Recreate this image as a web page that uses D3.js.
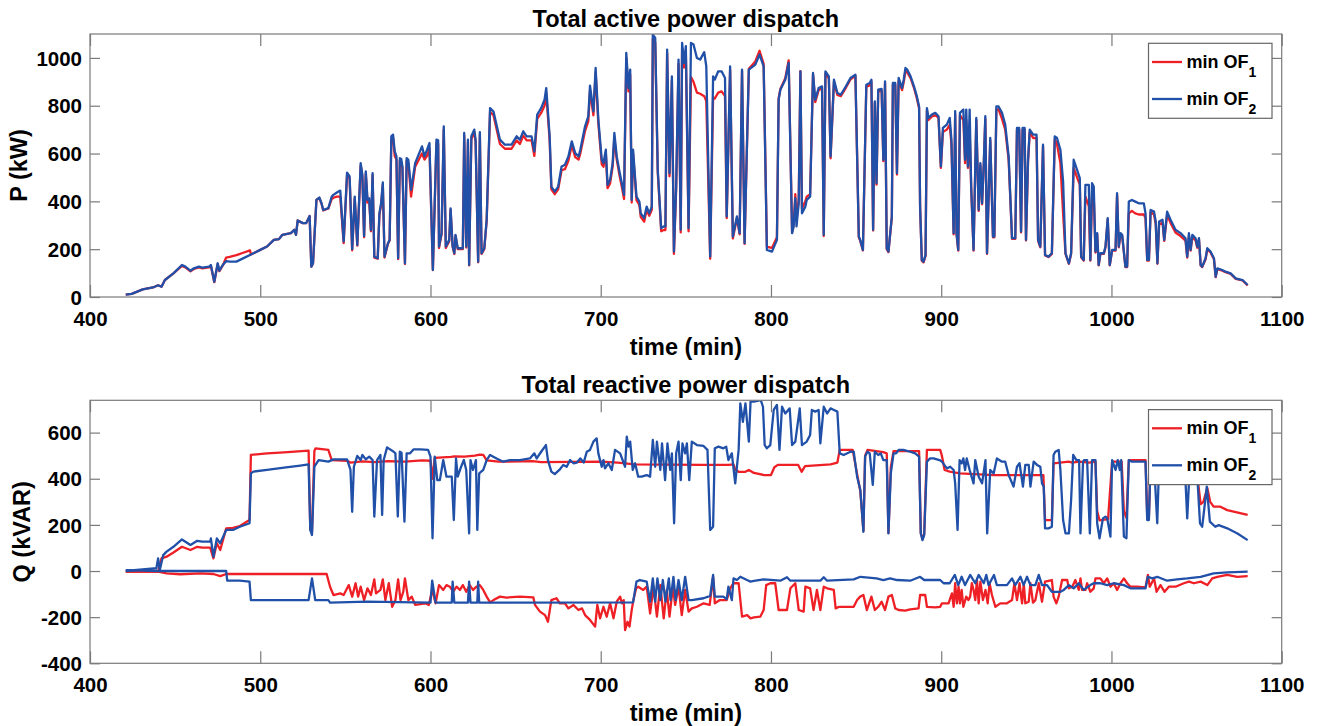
<!DOCTYPE html>
<html>
<head>
<meta charset="utf-8">
<script src="https://cdn.jsdelivr.net/npm/d3@7"></script>
<style>
  html, body { margin: 0; padding: 0; background: #fff; }
  svg { display: block; }
  text { font-family: "Liberation Sans", Arial, Helvetica, sans-serif; font-weight: bold; fill: #000; }
</style>
</head>
<body>
<svg id="chart" width="1319" height="726"></svg>
<script>
// ---- data: [time (min), value] ----
const timeTicks = [400, 500, 600, 700, 800, 900, 1000, 1100];
const pTicks = [0, 200, 400, 600, 800, 1000];
const qTicks = [-400, -200, 0, 200, 400, 600];
const seriesNames = ["min OF", "min OF"];
const seriesSubs = ["1", "2"];

// Total active power, min OF2
const pOF2 = [
[421,10],[424.5,13],[431,32],[437,40],[440,49],[442,43],[444,71],[449,99],[454,134],[456,127],[459,110],[461,120],[464,127],[466,123],[470,127],[471,134],[473,64],[475,141],[476,110],[478,134],[480,150],[482,148],[486,148],[494,176],[500,197],[504,211],[508,239],[511,242],[513,260],[518,267],[520,281],[521,260],[522,320],[525,309],[527,309],[529,339],[530,127],[531,141],[533,406],[534.7,416],[536,392],[537,364],[540,372],[542,420],[543,427],[545,437],[547,445],[549,232],[551,520],[552.5,504],[554,200],[555.5,420],[557,218],[559,560],[560,511],[561,255],[562,525],[563,406],[564,413],[565,280],[566,518],[567,169],[569,162],[570,350],[571,392],[572,479],[573,169],[575,225],[576,239],[577,672],[578,679],[579,609],[580,588],[581,162],[582,581],[582.8,577],[583.5,546],[585,141],[586,581],[587,574],[588.6,448],[591,560],[595,630],[596.5,588],[598,616],[599.4,644],[601.4,113],
[603.5,658],[604.5,655],[605,211],[606.5,267],[607.8,714],[609,211],[611,239],[611.8,371],[613,214],[614,183],[614.7,260],[616,204],[619,204],[619.8,686],[621,211],[622,658],[622.7,134],[624,672],[625.7,700],[626.5,658],[628,148],[629,689],[630,183],[631.6,204],[633,323],[635,790],[637,776],[640.8,658],[643.7,637],[647.6,637],[650.6,672],[652.5,658],[654.5,693],[656.5,672],[659.4,672],[661,609],[662.7,763],[665,790],[667,825],[668,874],[670,672],[671,462],[673,441],[675,462],[677,546],[679,553],[681,588],[683,651],[685,602],[687,588],[688,616],[690.8,714],[692.7,756],[693.7,884],[695.7,776],[697,958],[698.6,742],[700.6,574],[701.6,560],[703,616],[704,469],[705.5,490],[707,560],[708,686],[709.4,588],[711,525],[712.4,476],[713.7,427],[715,1021],[716.3,874],[717.3,951],[718.2,406],[719,616],[721,420],[722.7,399],[723.5,350],[725.5,330],[727,378],[728.5,350],[730,378],[730.6,1098],[732,1084],[733.5,532],[735.5,288],[737,295],[738,295],[739,1035],[740.4,518],[741.8,923],[743,190],[744.3,462],[745.7,993],[747,281],[747.8,1063],[749,979],[750,1049],[751.6,288],[753,1063],[754.5,1056],[756.5,1000],[758.4,993],[760.8,1024],[762,965],[764.3,169],[766,923],[767,909],[769,944],[771,944],[773,916],[774,337],[776,965],[777.6,253],[780,337],[781.6,267],[783,951],[784.5,225],[787,951],[790.8,972],[793.3,1014],[795.7,965],[797.6,197],[800.6,190],[803.5,239],[804.5,825],[805.5,867],[808.4,909],[810.4,979],[812.4,267],[813.3,295],[814.3,413],[815,295],[816.3,392],[817.3,944],[818.2,350],[820.2,378],[821,406],[823,420],[824.7,937],[826,825],[828,874],[830,881],[831,260],[832,944],[834,923],[835,588],[837,909],[839,853],[841,846],[844,881],[846.7,916],[849.6,930],[851.6,253],[852.4,239],[854,197],
[856,888],[858,895],[859,909],[860,281],[861,818],[862,476],[863,867],[865,870],[866,574],[867,902],[868,204],[869,190],[871,337],[871.6,895],[873,895],[874,518],[875,916],[877,874],[878,910],[879,958],[880,951],[882,923],[884,881],[885.7,839],[887,797],[887.6,378],[888.6,155],[889.6,148],[890.8,176],[891.6,790],[892.5,749],[894.5,763],[896.5,770],[898.4,756],[899.8,546],[901,707],[903.3,721],[905,749],[906,658],[907.3,267],[908.2,777],[909,267],[910,197],[911,770],[913,784],[914,574],[914.7,784],[915.7,546],[916.7,784],[917.6,462],[919,197],[920.6,749],[922,365],[923,560],[924,392],[925,560],[925.9,756],[926.9,183],[928.8,665],[930.4,253],[931.2,253],[932.4,797],[933.7,797],[935.7,770],[937.6,721],[939.6,588],[941.6,246],[943.5,246],[944.5,707],[945.8,707],[946.9,274],[947.8,707],[949,707],[949.8,239],[951,574],[952,700],[954,679],[956,679],[956.9,239],[958.2,211],[959.8,637],[961,176],[963,169],[965,183],[966.7,672],[968,665],[970,616],[971.6,483],[973,183],[975,141],[976.3,183],[977.8,574],[979.8,532],[981.4,497],[982.2,169],[983.7,155],[984.7,469],[986.7,469],[987.6,155],[988.6,476],[989.6,462],[990.6,190],[991.6,267],[992.5,134],[993.5,183],[995.5,183],[996.5,211],[997.8,330],[999,134],[1000.4,197],[1002.4,197],[1003.3,434],[1004.3,211],[1005.3,267],[1006.3,260],[1008.2,127],[1009.2,127],[1010.2,399],[1012,406],[1014,399],[1016,392],[1019,392],[1020,350],[1021,155],[1022,155],[1023,364],[1025,357],[1026,316],[1027,141],[1028,316],[1030,323],[1031,239],[1032.7,357],[1034.7,323],[1037.6,281],[1040.6,267],[1043.5,246],[1044.5,169],[1045.5,267],[1046.5,197],[1047.5,260],[1049.4,246],[1050.4,211],[1051.4,246],[1052.4,134],[1053.3,127],[1055.3,162],[1056.3,204],[1058.2,190],[1060.2,162],[1061.2,85],[1062.2,120],[1065.1,113],[1067,106],[1070,99],[1073,78],[1077,71],[1080,50]
];

// Total active power, min OF1
const pOF1 = [
[421,10],[424.5,13],[431,32],[437,40],[440,49],[442,43],[444,71],[449,99],[454,130],[456,124],[459,107],[461,117],[464,124],[466,120],[470,124],[471,131],[473,62],[475,138],[476,108],[478,132],[480,165],[482,168],[486,175],[490,185],[494,195],[494.5,178],[500,197],[504,211],[508,239],[511,242],[513,260],[518,267],[520,281],[521,260],[522,320],[525,309],[527,309],[529,339],[530,127],[531,141],[533,406],[534.7,414],[536,390],[537,362],[540,370],[542,410],[543,415],[545,420],[547,420],[549,225],[551,510],[552.5,495],[554,195],[555.5,412],[557,215],[559,550],[560,500],[561,250],[562,515],[563,395],[564,405],[565,275],[566,510],[567,165],[569,160],[570,345],[571,385],[572,470],[573,165],[575,222],[576,236],[577,660],[578,668],[579,590],[580,575],[581,158],[582,570],[582.8,565],[583.5,540],[585,138],[586,570],[587,560],[588.6,420],[591,545],[595,600],[596.5,575],[598,590],[599.4,620],[601.4,113],
[603.5,645],[604.5,640],[605,205],[606.5,262],[607.8,700],[609,205],[611,233],[611.8,365],[613,210],[614,180],[614.7,255],[616,200],[619,200],[619.8,675],[621,207],[622,648],[622.7,132],[624,660],[625.7,690],[626.5,648],[628,145],[629,678],[630,180],[631.6,200],[633,318],[635,775],[637,760],[640.8,640],[643.7,620],[647.6,620],[650.6,655],[652.5,640],[654.5,675],[656.5,655],[659.4,655],[661,590],[662.7,745],[665,770],[667,800],[668,850],[670,655],[671,450],[673,430],[675,450],[677,530],[679,535],[681,570],[683,635],[685,585],[687,575],[688,600],[690.8,695],[692.7,735],[693.7,860],[695.7,760],[697,940],[698.6,725],[700.6,555],[701.6,545],[703,600],[704,455],[705.5,475],[707,545],[708,665],[709.4,575],[711,510],[712.4,460],[713.7,410],[715,1000],[716.3,860],[717.3,930],[718.2,395],[719,600],[721,405],[722.7,385],[723.5,335],[725.5,315],[727,365],[728.5,340],[730,365],[730.6,1080],[732,1065],[733.5,520],[735.5,275],[737,280],[738,280],[739,1020],[740.4,505],[741.8,905],[743,180],[744.3,450],[745.7,975],[747,270],[747.8,1040],[749,960],[750,1020],[751.6,275],[753,920],[754.5,900],[756.5,855],[758.4,850],[760.8,840],[762,820],[764.3,160],[766,835],[767,830],[769,855],[771,860],[773,840],[774,330],[776,950],[777.6,245],[780,330],[781.6,262],[783,945],[784.5,222],[787,955],[790.8,985],[793.3,1030],[795.7,975],[797.6,210],[800.6,205],[803.5,250],[804.5,830],[805.5,870],[808.4,915],[810.4,990],[812.4,270],[813.3,300],[814.3,430],[815,320],[816.3,410],[817.3,945],[818.2,370],[820.2,400],[821,420],[823,430],[824.7,930],[826,815],[828,865],[830,875],[831,255],[832,935],[834,915],[835,580],[837,900],[839,845],[841,840],[844,875],[846.7,910],[849.6,925],[851.6,250],[852.4,236],[854,195],
[856,880],[858,885],[859,900],[860,278],[861,810],[862,470],[863,860],[865,862],[866,568],[867,895],[868,200],[869,188],[871,334],[871.6,888],[873,888],[874,512],[875,905],[877,865],[878,900],[879,945],[880,940],[882,915],[884,875],[885.7,830],[887,790],[887.6,372],[888.6,152],[889.6,145],[890.8,172],[891.6,780],[892.5,740],[894.5,755],[896.5,760],[898.4,750],[899.8,540],[901,690],[903.3,700],[905,720],[906,640],[907.3,262],[908.2,765],[909,262],[910,194],[911,760],[913,740],[914,560],[914.7,740],[915.7,540],[916.7,700],[917.6,455],[919,194],[920.6,740],[922,360],[923,550],[924,388],[925,550],[925.9,745],[926.9,180],[928.8,655],[930.4,250],[931.2,250],[932.4,785],[933.7,785],[935.7,745],[937.6,700],[939.6,575],[941.6,243],[943.5,243],[944.5,700],[945.8,700],[946.9,270],[947.8,700],[949,700],[949.8,236],[951,565],[952,690],[954,665],[956,665],[956.9,236],[958.2,208],[959.8,630],[961,174],[963,167],[965,180],[966.7,660],[968,640],[970,560],[971.6,350],[973,180],[975,139],[976.3,180],[977.8,540],[979.8,500],[981.4,470],[982.2,166],[983.7,152],[984.7,420],[986.7,380],[987.6,152],[988.6,430],[989.6,420],[990.6,186],[991.6,262],[992.5,132],[993.5,180],[995.5,180],[996.5,208],[997.8,325],[999,132],[1000.4,194],[1002.4,194],[1003.3,425],[1004.3,208],[1005.3,262],[1006.3,255],[1008.2,125],[1009.2,125],[1010.2,350],[1012,360],[1014,350],[1016,345],[1019,345],[1020,330],[1021,152],[1022,152],[1023,355],[1025,345],[1026,305],[1027,139],[1028,305],[1030,310],[1031,235],[1032.7,345],[1034.7,310],[1037.6,270],[1040.6,255],[1043.5,236],[1044.5,165],[1045.5,255],[1046.5,194],[1047.5,250],[1049.4,236],[1050.4,206],[1051.4,240],[1052.4,132],[1053.3,125],[1055.3,158],[1056.3,200],[1058.2,186],[1060.2,158],[1061.2,83],[1062.2,117],[1065.1,110],[1067,104],[1070,97],[1073,76],[1077,69],[1080,48]
];

// Total reactive power, min OF1 (upper and lower traces)
const qOF1Upper = [
[421,-3],[440,-3],[442,55],[445,62],[449,80],[454,105],[459,91],[463,105],[466,101],[470.6,101],[472.5,55],[474.5,120],[476.5,91],[480,185],[484,187],[488,195],[493.7,221],[494.5,503],[504,510],[514,514],[528.4,522],[529.4,180],[530.4,170],[531.8,520],[532.5,532],[540,525],[542,481],[551,478],[553,470],[560,475],[567,472],[575,476],[585,474],[595,480],[600,478],[601,400],[602.5,490],[612,495],[614,497],[620,496],[626,500],[629,505],[631,503],[633,480],[640,474],[660,476],[665,472],[700,474],[710,470],[720,462],[760,460],[775,460],[778,462],[779,440],[781,430],[785,430],[787,438],[790,425],[796,416],[800,416],[802,450],[804,460],[816,460],[818,430],[820,455],[835,462],[839,470],[840.4,525],[848,525],[850.6,420],[852.5,345],[854.3,175],[855.3,500],[856.7,525],[866,515],[868,510],[869,165],[870.4,450],[872,520],[887,520],[888,165],[889,140],[890,160],[891.6,525],[899.4,525],[900.4,500],[902,438],[905,431],[911,423],[931,416],[960,416],[961,221],[965,221],[966,467],[975,474],[977,470],[981,474],[987,470],[990.6,474],[991.6,260],[993,220],[998,225],[1000.4,474],[1006,474],[1007.3,260],[1008.8,230],[1010.2,481],[1020,481],[1021,240],[1022,240],[1023,478],[1045,470],[1050,440],[1052.4,290],[1054,300],[1056.3,360],[1058,300],[1060,279],[1064,279],[1068,264],[1080,243]
];
const qOF1Lower = [
[421,-3],[440,-3],[445,-10],[453,-14],[465,-10],[472.5,-13],[476.5,-22],[480,-13],[539,-13],[541,-68],[543,-104],[547,-97],[549,-104],[552,-61],[554,-111],[556,-53],[557.5,-111],[559,-68],[561,-126],[563,-75],[565,-104],[567,-36],[568,-97],[570.6,-82],[572,-36],[573.5,-126],[575.5,-53],[577.5,-155],[579.4,-126],[581,-36],[582.4,-126],[584,-90],[585,-32],[587,-126],[589,-111],[591,-147],[597,-140],[599,-147],[601,-82],[603,-140],[605,-61],[607.5,-82],[609.4,-61],[611.4,-68],[613.3,-90],[615.3,-68],[617.3,-82],[619,-61],[621,-90],[623,-61],[625,-82],[627,-68],[629,-61],[631,-82],[633,-111],[635,-136],[637,-126],[640.8,-111],[644.7,-115],[652.5,-111],[660.4,-114],[661.4,-147],[664.3,-176],[667.3,-191],[669,-220],[671,-126],[674,-118],[676,-140],[679,-140],[681,-162],[684,-147],[686.9,-169],[689,-162],[690.8,-191],[693.7,-212],[696.7,-241],[698,-147],[699.6,-205],[701.6,-155],[703.5,-198],[705.5,-140],[707.5,-205],[709.4,-133],[711.4,-111],[712.4,-140],[713.5,-126],[714.3,-256],[715.7,-220],[716.9,-241],[718.2,-169],[719.2,-126],[720.8,-75],[722,-68],[725,-82],[727,-68],[729,-184],[731,-68],[733,-198],[735,-61],[737,-205],[738.8,-82],[740.4,-198],[742.4,-68],[743.7,-147],[745.7,-68],[747.6,-191],[749.6,-82],[751.6,-176],[753.5,-162],[756.5,-155],[760.4,-140],[764,-147],[766,-25],[767,-140],[770,-126],[774,-126],[776,-75],[778,-53],[781,-53],[783,-198],[786,-191],[788,-205],[790,-201],[793.7,-198],[795.7,-169],[797.2,-61],[799.6,-53],[802.5,-53],[804.5,-169],[809.4,-169],[811.4,-75],[814.3,-53],[816.3,-169],[819.2,-176],[820.2,-68],[823,-75],[825,-169],[827,-82],[829,-169],[831,-68],[833,-75],[836.9,-82],[838,-162],[840,-155],[848.6,-155],[850.6,-126],[852.4,-111],[854.3,-104],[856.3,-169],[859,-111],[861,-169],[863,-155],[865,-133],[867,-169],[869,-111],[871,-104],[873,-162],[875,-169],[878.8,-172],[881.8,-166],[886.7,-162],[887.6,-104],[890.6,-104],[891.6,-155],[896.5,-158],[899.4,-155],[900.4,-140],[904.3,-140],[906.3,-97],[907.3,-155],[908.2,-53],[909.2,-140],[910.2,-68],[911,-140],[912,-82],[913,-155],[914.7,-111],[916,-126],[917,-111],[918,-53],[919,-82],[920,-126],[921,-39],[922,-140],[923,-46],[924.5,-126],[926,-82],[927.3,-140],[928.4,-53],[929.8,-104],[931.8,-155],[934.7,-140],[938.6,-140],[941.6,-126],[943,-53],[944.5,-126],[946,-53],[947.5,-140],[948.5,-53],[949.4,-140],[951.4,-133],[952.4,-53],[953.9,-137],[955.3,-126],[957.3,-53],[959.2,-133],[961,-46],[965,-39],[966,-111],[967.6,-140],[969,-111],[971,-39],[974,-39],[975,-75],[977,-68],[978.8,-39],[980.8,-82],[981.8,-32],[982.7,-82],[984.7,-82],[985.7,-53],[987.6,-90],[989.6,-75],[990.6,-32],[993.5,-32],[995.5,-53],[997.5,-32],[999.4,-68],[1001.4,-53],[1003.3,-82],[1005.3,-53],[1007.3,-32],[1009.2,-53],[1011.2,-68],[1015,-68],[1020,-71],[1021.4,-17],[1022.5,-68],[1025,-32],[1026.5,-90],[1028.8,-61],[1031.2,-90],[1033.7,-68],[1037.6,-68],[1042.5,-53],[1045.5,-46],[1048.4,-53],[1052.4,-46],[1056.3,-61],[1059.2,-32],[1062.2,-25],[1068,-17],[1073.9,-25],[1080,-22]
];

// Total reactive power, min OF2 (upper and lower traces)
const qOF2Upper = [
[421,0],[439,12],[440,55],[441,4],[443,69],[445,84],[449,105],[454,137],[459,113],[463,131],[466,127],[470.6,127],[471,141],[472.5,62],[474.5,141],[476.5,120],[480,178],[484,178],[488,192],[493.7,207],[494.5,423],[496,431],[504,438],[514,448],[523.5,457],[528.4,462],[529.4,178],[530.4,156],[531.8,452],[534.3,481],[540,474],[543,484],[551,484],[553,438],[554,257],[555,452],[557,499],[559,481],[560,503],[562,484],[564,496],[566,481],[567,236],[568.6,481],[570.6,503],[571.6,243],[572.5,481],[574.5,536],[578.4,517],[579.4,510],[580.8,236],[582,517],[583,513],[584.7,214],[586,510],[588,510],[590,527],[594,527],[598.6,525],[600,496],[601.2,142],[602.5,496],[604,394],[605.5,394],[607.5,481],[609.4,409],[611,409],[612.5,409],[613.7,221],[615,488],[616,409],[618,452],[619.6,481],[621,438],[622.7,163],[623.5,481],[625,438],[626.7,481],[627.5,178],[628.6,423],[631,438],[633,481],[635,503],[638.8,488],[642.7,474],[646.7,481],[652.5,481],[658.4,488],[661,510],[662.4,488],[665,517],[667.8,546],[669,481],[671,431],[673,420],[675.7,438],[678,460],[680,452],[682,481],[684,467],[686,470],[688,488],[690,470],[691.8,517],[693.7,525],[695.7,561],[697.6,575],[698.6,510],[700.6,452],[701.6,481],[702.5,445],[704.5,467],[706.5,438],[708.4,525],[711.4,510],[714.3,452],[715.3,582],[716.3,539],[717.3,561],[718.8,438],[720.2,467],[722,409],[724,409],[727,416],[729,409],[730.6,568],[732,452],[733,561],[735,438],[736,553],[737.8,394],[739.2,553],[740.8,438],[741.8,510],[743.1,207],[744.3,510],[745.7,561],[747,394],[748,553],[749.6,510],[750.6,553],[752,394],[753.5,561],[756.5,546],[760.4,542],[762.7,525],[764.3,178],[766,192],[767,532],[769.2,539],[772,532],[773.7,539],[775,481],[777,510],[779,380],[781,525],[782,727],[783.5,647],[785,727],[787,561],[788,734],[790,734],[792,737],[794,741],[795.3,712],[796.3,546],[797.6,532],[799.6,546],[801.6,698],[803.5,720],[805,525],[806.5,712],[808.4,683],[811,705],[812.4,546],[814.3,561],[816.9,705],[818.2,546],[821,561],[823,590],[824,698],[826,691],[828,698],[829,553],[831,712],[833,683],[835,705],[837,698],[839,691],[840.4,510],[842.7,503],[846.7,517],[848.6,517],[850.6,409],[852.5,351],[854.3,170],[855.3,496],[856.7,517],[858,510],[859.8,373],[861,517],[863,503],[864.5,510],[866,481],[868,481],[869,163],[870.4,423],[872,510],[873.5,510],[875,525],[877.8,525],[881.8,517],[884.7,510],[887,496],[888,163],[889,134],[890,156],[891.6,474],[893.5,488],[895.5,488],[899,481],[900.4,474],[903.3,445],[905.3,452],[907.3,438],[908.2,380],[909.6,178],[910.8,481],[912,467],[913,488],[914,438],[915,488],[916.7,438],[919,380],[920,481],[922,409],[924,380],[926,481],[927,163],[928.8,438],[930.8,423],[932.7,488],[935.7,474],[937.6,474],[939.6,416],[942.5,366],[944.5,452],[946,467],[948,366],[949.4,460],[951.4,460],[952.4,366],[954.3,474],[956.3,460],[958.2,452],[959.2,380],[960.2,366],[961,185],[963,185],[965,192],[966,503],[967,517],[969,525],[970,438],[971.6,221],[973,163],[975,163],[976.3,308],[977.5,503],[979.4,481],[981,481],[981.8,163],[983.3,474],[984,481],[985.7,481],[987.3,163],[988.6,481],[990.6,481],[991.6,207],[993,142],[995,228],[996.5,236],[997.5,228],[999.4,149],[1000.4,481],[1002.4,438],[1003.7,481],[1004.9,438],[1005.7,481],[1007.3,149],[1008.8,142],[1010.2,481],[1012,474],[1015,474],[1020,474],[1021,221],[1022,221],[1023,474],[1025,470],[1026.9,207],[1028,470],[1032,470],[1036,460],[1040,470],[1043,470],[1044.5,228],[1045.5,380],[1047,470],[1050,465],[1052,207],[1053.3,192],[1055,300],[1056,366],[1057.8,214],[1061,192],[1063,199],[1068,185],[1074,163],[1080,134]
];
const qOF2Lower = [
[421,4],[441,0],[480,0],[480.6,-42],[488,-42],[493.7,-46],[494.5,-126],[528.4,-126],[530.4,-32],[532.3,-126],[540,-126],[541,-137],[563,-133],[600,-137],[601,-42],[603,-137],[612.5,-137],[613,-46],[614,-137],[622,-137],[622.7,-46],[623.5,-137],[627.5,-137],[628,-46],[628.6,-137],[719,-136],[721,-46],[723,-39],[727,-46],[729,-133],[730.6,-32],[732,-133],[733.3,-32],[735,-126],[736.5,-39],[738,-133],[740,-32],[741,-126],[742.7,-25],[744,-126],[745.7,-39],[747.6,-126],[749.6,-25],[751.6,-126],[753.5,-126],[760.4,-118],[764.3,-108],[766,-17],[767,-111],[772,-111],[774,-122],[775,-68],[777,-126],[778,-32],[780,-39],[782,-25],[785.9,-39],[788,-46],[790,-43],[795.7,-36],[805.5,-42],[809.4,-27],[811.4,-42],[829,-42],[831,-27],[833,-42],[848.6,-36],[852.5,-25],[862,-32],[866,-39],[870,-32],[874,-39],[881.8,-42],[887.6,-25],[890,-39],[899.4,-39],[901.4,-53],[905,-53],[908,-17],[910,-61],[912,-25],[914,-61],[917,-17],[920,-53],[922,-17],[925,-53],[926.5,-17],[927.8,-61],[931,-17],[932.7,-61],[938.6,-61],[941.6,-32],[943.5,-61],[946.5,-25],[948.4,-61],[950.4,-25],[952.4,-61],[955.3,-61],[957.3,-17],[959.2,-61],[962.2,-61],[965,-90],[970,-90],[972,-82],[975,-61],[977.8,-75],[980.8,-53],[983.7,-82],[987.6,-61],[989.6,-53],[993.5,-53],[997.5,-61],[1001.4,-53],[1007.3,-61],[1011.2,-75],[1020,-75],[1021.4,-25],[1024,-32],[1026.9,-25],[1032.7,-42],[1038.6,-36],[1044.5,-32],[1052.4,-25],[1060,-10],[1068,-6],[1080,-3]
];

// ---- drawing ----
const RED = "#ee1f25";
const BLUE = "#2150a8";
const AXIS = "#7a7a7a";
const svg = d3.select("#chart");

const left = 90, right = 1281.7;
const x = d3.scaleLinear().domain([400, 1100]).range([left, right]);
const plain = d => String(d);   // ASCII hyphen for negatives

function panel(cfg) {
  const { top, bottom, yDomain, yTicks, title, yLabel, yLabelX, traces, id } = cfg;
  const y = d3.scaleLinear().domain(yDomain).range([bottom, top]);
  const g = svg.append("g");

  g.append("clipPath").attr("id", id)
    .append("rect").attr("x", left).attr("y", top).attr("width", right - left).attr("height", bottom - top);

  const line = d3.line().x(d => x(d[0])).y(d => y(d[1]));
  const plot = g.append("g").attr("clip-path", `url(#${id})`);
  traces.forEach(tr => {
    tr.data.forEach(series => {
      plot.append("path").datum(series)
        .attr("d", line)
        .attr("fill", "none")
        .attr("stroke", tr.color)
        .attr("stroke-width", 2.3)
        .attr("stroke-linejoin", "round");
    });
  });

  // axes box with inward ticks on all four sides
  const axB = d3.axisBottom(x).tickValues(timeTicks).tickSizeInner(-12).tickSizeOuter(0).tickFormat(plain);
  const axT = d3.axisTop(x).tickValues(timeTicks).tickSizeInner(-12).tickSizeOuter(0).tickFormat("");
  const axL = d3.axisLeft(y).tickValues(yTicks).tickSizeInner(-10).tickSizeOuter(0).tickFormat(plain);
  const axR = d3.axisRight(y).tickValues(yTicks).tickSizeInner(-10).tickSizeOuter(0).tickFormat("");

  const gb = g.append("g").attr("transform", `translate(0,${bottom})`).call(axB);
  const gt = g.append("g").attr("transform", `translate(0,${top})`).call(axT);
  const gl = g.append("g").attr("transform", `translate(${left},0)`).call(axL);
  const gr = g.append("g").attr("transform", `translate(${right},0)`).call(axR);
  [gb, gt, gl, gr].forEach(a => {
    a.selectAll(".domain").remove();
    a.selectAll(".tick line").attr("stroke", AXIS).attr("stroke-width", 1.2);
    a.attr("font-family", null).attr("font-size", null);
  });
  gb.selectAll(".tick text").attr("y", 29).attr("dy", 0).attr("fill", "#000").style("font-size", "20.5px");
  gl.selectAll(".tick text").attr("x", -8).attr("dy", "0.35em").attr("fill", "#000").style("font-size", "20.5px");

  g.append("rect").attr("x", left).attr("y", top).attr("width", right - left).attr("height", bottom - top)
    .attr("fill", "none").attr("stroke", AXIS).attr("stroke-width", 1.2);

  // titles and labels
  const cx = (left + right) / 2;
  g.append("text").attr("x", cx).attr("y", top - 7).attr("text-anchor", "middle").style("font-size", "23.5px").text(title);
  g.append("text").attr("x", cx).attr("y", bottom + 57.5).attr("text-anchor", "middle").style("font-size", "23.5px").text("time (min)");
  g.append("text").attr("transform", `translate(${yLabelX},${(top + bottom) / 2}) rotate(-90)`)
    .attr("text-anchor", "middle").style("font-size", "23.5px").text(yLabel);

  // legend
  const lx = 1148.5, ly = top + 9.3, lw = 123.5, lh = 75;
  const lg = g.append("g");
  lg.append("rect").attr("x", lx).attr("y", ly).attr("width", lw).attr("height", lh)
    .attr("fill", "#fff").attr("stroke", "#666").attr("stroke-width", 1.2);
  traces.forEach((tr, i) => {
    const ry = top + 28 + i * 37;
    lg.append("line").attr("x1", lx + 3.5).attr("x2", lx + 33.5).attr("y1", ry).attr("y2", ry)
      .attr("stroke", tr.color).attr("stroke-width", 2.3);
    const t = lg.append("text").attr("x", lx + 38).attr("y", ry + 5.5).style("font-size", "18px");
    t.append("tspan").text(seriesNames[i]);
    t.append("tspan").attr("dy", 9.5).style("font-size", "14px").text(seriesSubs[i]);
  });
}

panel({
  id: "clipP", top: 34, bottom: 297, yDomain: [0, 1100], yTicks: pTicks,
  title: "Total active power dispatch", yLabel: "P (kW)", yLabelX: 27,
  traces: [{ data: [pOF1], color: RED }, { data: [pOF2], color: BLUE }]
});

panel({
  id: "clipQ", top: 400.3, bottom: 663.3, yDomain: [-400, 740], yTicks: qTicks,
  title: "Total reactive power dispatch", yLabel: "Q (kVAR)", yLabelX: 30,
  traces: [{ data: [qOF1Upper, qOF1Lower], color: RED }, { data: [qOF2Upper, qOF2Lower], color: BLUE }]
});
</script>
</body>
</html>
